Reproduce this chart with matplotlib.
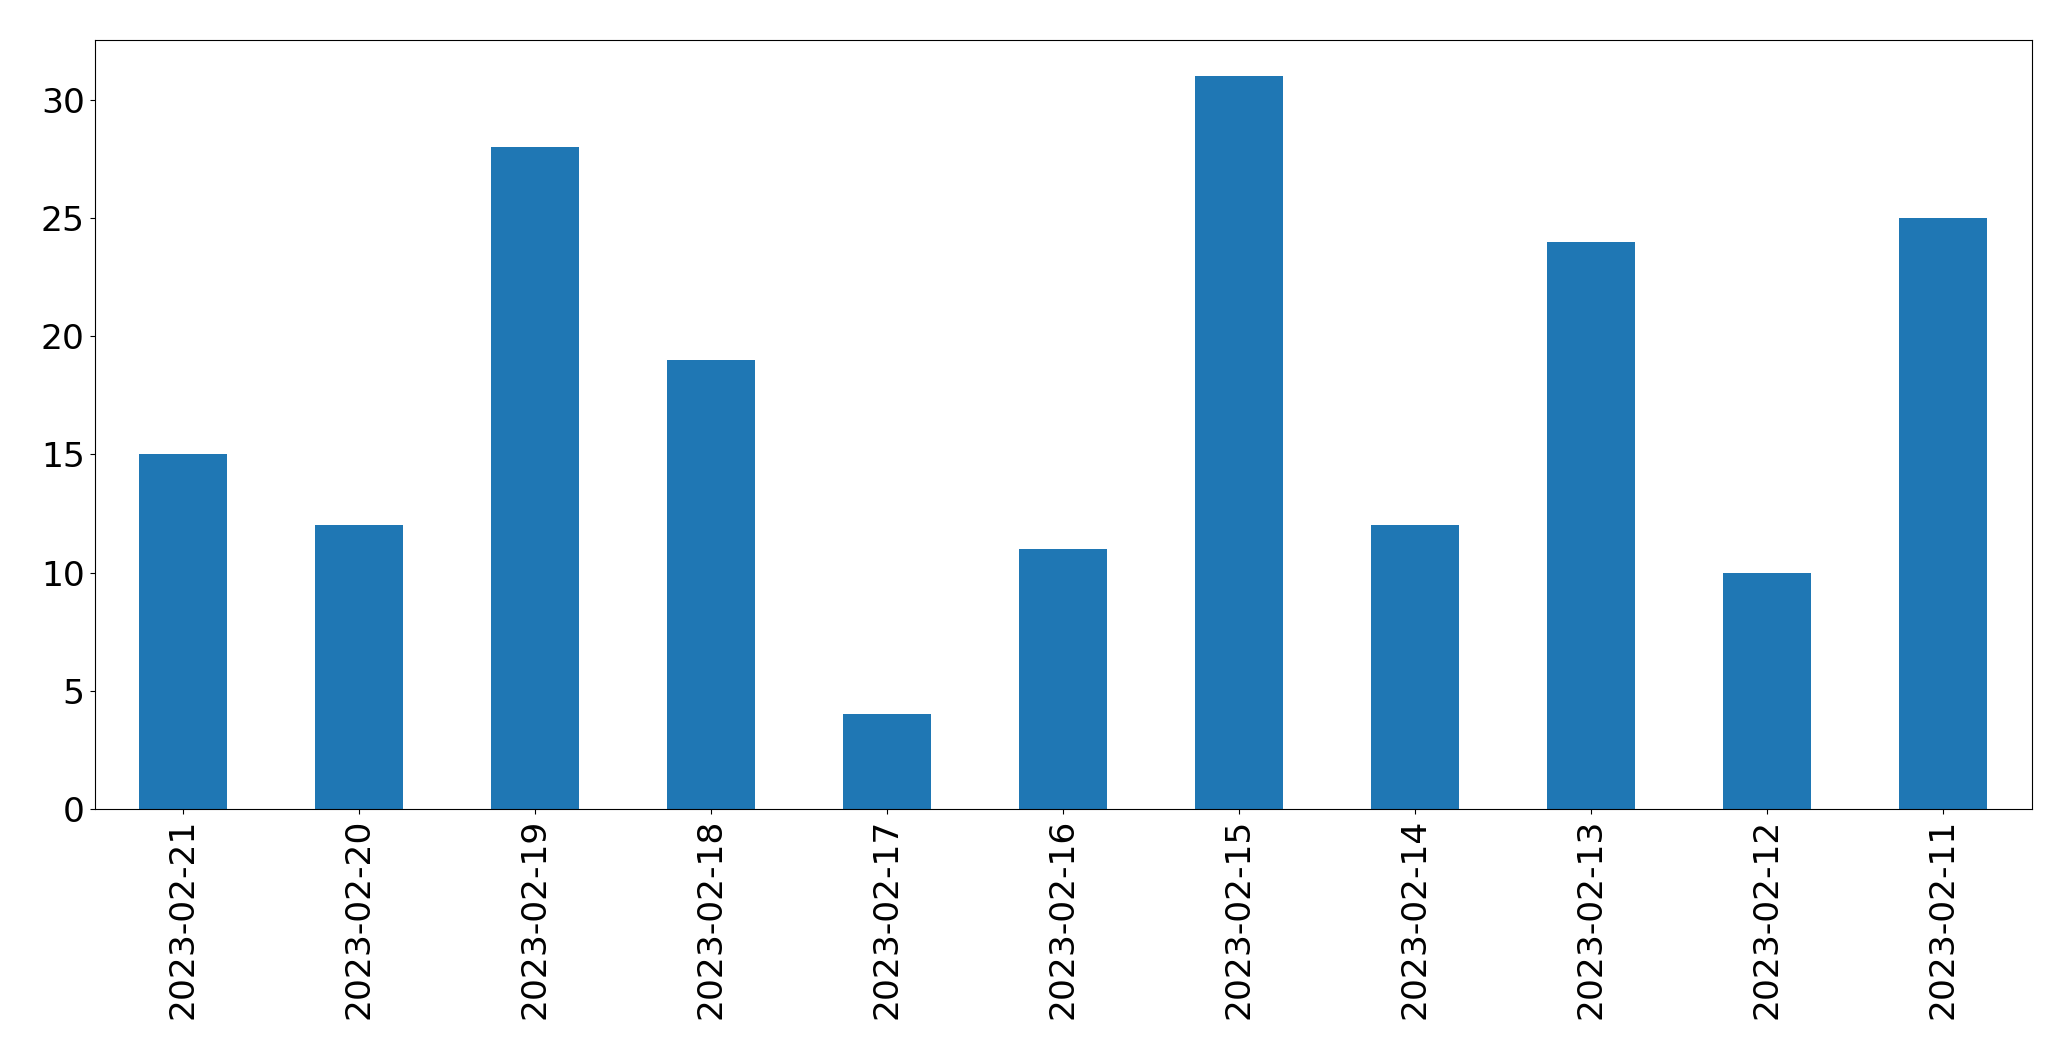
import matplotlib
matplotlib.use('Agg')
import matplotlib.pyplot as plt
import numpy as np

dates = ['2023-02-21', '2023-02-20', '2023-02-19', '2023-02-18', '2023-02-17',
         '2023-02-16', '2023-02-15', '2023-02-14', '2023-02-13', '2023-02-12',
         '2023-02-11']
counts = [15, 12, 28, 19, 4, 11, 31, 12, 24, 10, 25]

fig = plt.figure(figsize=(20.71, 10.61), dpi=100)
ax = fig.add_axes([94.5/2071, 1-809/1061, (2031.5-94.5)/2071, (809-39.5)/1061])

x = np.arange(len(dates))
ax.bar(x, counts, width=0.5, color='#1f77b4')
ax.set_xlim(-0.5, len(dates)-0.5)
ax.set_ylim(0, max(counts)*1.05)
ax.set_xticks(x)
ax.set_xticklabels(dates, rotation=90)
ax.tick_params(labelsize=24.8)

plt.savefig('out.png', dpi=100)
